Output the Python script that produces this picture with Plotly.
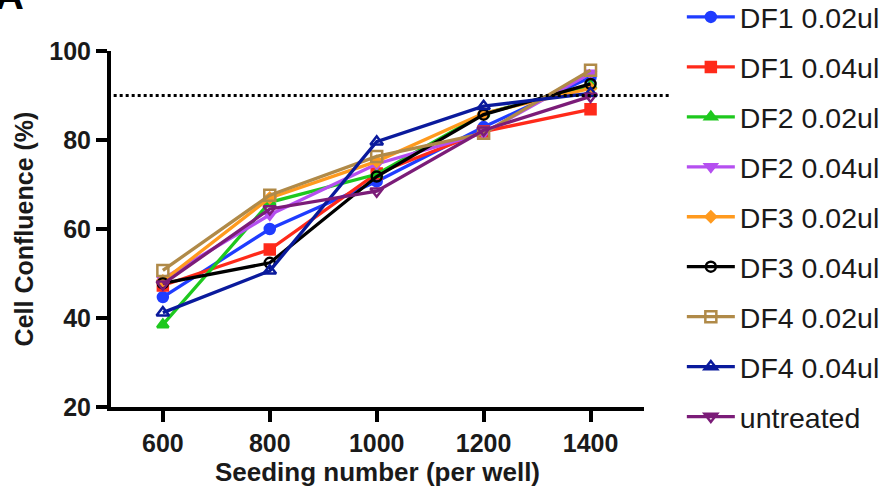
import plotly.graph_objects as go

seeding = [600, 800, 1000, 1200, 1400]
series_names = ["DF1 0.02ul", "DF1 0.04ul", "DF2 0.02ul", "DF2 0.04ul", "DF3 0.02ul",
                "DF3 0.04ul", "DF4 0.02ul", "DF4 0.04ul", "untreated"]
df1_002 = [44.7, 60.0, 70.7, 82.9, 94.1]
df1_004 = [47.3, 55.4, 72.5, 81.9, 86.9]
df2_002 = [38.5, 66.0, 72.3, 85.9, 92.2]
df2_004 = [48.8, 63.2, 74.6, 81.6, 95.0]
df3_002 = [48.3, 67.0, 75.2, 86.0, 91.6]
df3_004 = [47.8, 52.4, 71.8, 85.7, 92.6]
df4_002 = [50.7, 67.6, 76.3, 81.5, 95.7]
df4_004 = [41.2, 50.6, 79.6, 87.6, 90.5]
untreated = [47.6, 64.5, 68.5, 82.2, 89.8]
threshold = 90

values = [df1_002, df1_004, df2_002, df2_004, df3_002, df3_004, df4_002, df4_004, untreated]
colors = ["#1f3cff", "#ff2a1a", "#1ec81e", "#b54ff0", "#ff9a1e", "#000000", "#b08a48", "#0a1a9c", "#7b1c78"]
symbols = ["circle", "square", "triangle-up", "triangle-down", "diamond",
           "circle-open", "square-open", "triangle-up-open", "triangle-down-open"]
sizes = [10, 10, 10, 10, 8, 10, 11, 11, 11]

FONT = "Liberation Sans, Arial, sans-serif"

fig = go.Figure()
for i, (name, vals) in enumerate(zip(series_names, values)):
    fig.add_trace(go.Scatter(
        x=seeding, y=vals, name=name, mode="lines+markers",
        legendgroup=name,
        line=dict(color=colors[i], width=3.3),
        marker=dict(symbol=symbols[i], size=sizes[i], color=colors[i],
                    line=dict(color=colors[i], width=2.5)),
    ))

fig.add_shape(type="line", xref="paper", yref="y", x0=0.005, x1=1.047,
              y0=threshold, y1=threshold,
              line=dict(color="black", width=3, dash="dot"))

fig.add_annotation(text="<b>A</b>", xref="paper", yref="paper", x=-0.222, y=1.09,
                   xanchor="left", yanchor="bottom", showarrow=False,
                   font=dict(family=FONT, size=40, color="black"))

fig.update_layout(
    width=893, height=500,
    margin=dict(l=111, r=249, t=51, b=93, autoexpand=False),
    plot_bgcolor="white", paper_bgcolor="white",
    font=dict(family=FONT, color="black"),
    showlegend=True,
    legend=dict(x=1.071, xanchor="left", y=1.166, yanchor="top",
                font=dict(family=FONT, size=28.5, color="#1a1a1a"),
                tracegroupgap=9.9, itemwidth=48, bgcolor="rgba(0,0,0,0)",
                maxheight=500),
    xaxis=dict(range=[503, 1500], tickvals=seeding, ticktext=[str(s) for s in seeding],
               showgrid=False, zeroline=False, showline=True, linecolor="black", linewidth=4,
               ticks="outside", ticklen=11, tickwidth=4, tickcolor="black",
               tickfont=dict(family=FONT, size=25, color="#1a1a1a", weight="bold"),
               title=dict(text="<b>Seeding number (per well)</b>", standoff=8,
                          font=dict(family=FONT, size=26, color="#1a1a1a"))),
    yaxis=dict(range=[20, 100], tickvals=[20, 40, 60, 80, 100],
               showgrid=False, zeroline=False, showline=True, linecolor="black", linewidth=4,
               ticks="outside", ticklen=11, tickwidth=4, tickcolor="black",
               tickfont=dict(family=FONT, size=25, color="#1a1a1a", weight="bold"),
               title=dict(text="<b>Cell Confluence (%)</b>", standoff=10,
                          font=dict(family=FONT, size=25, color="#1a1a1a"))),
)

fig.write_html("out.html")
